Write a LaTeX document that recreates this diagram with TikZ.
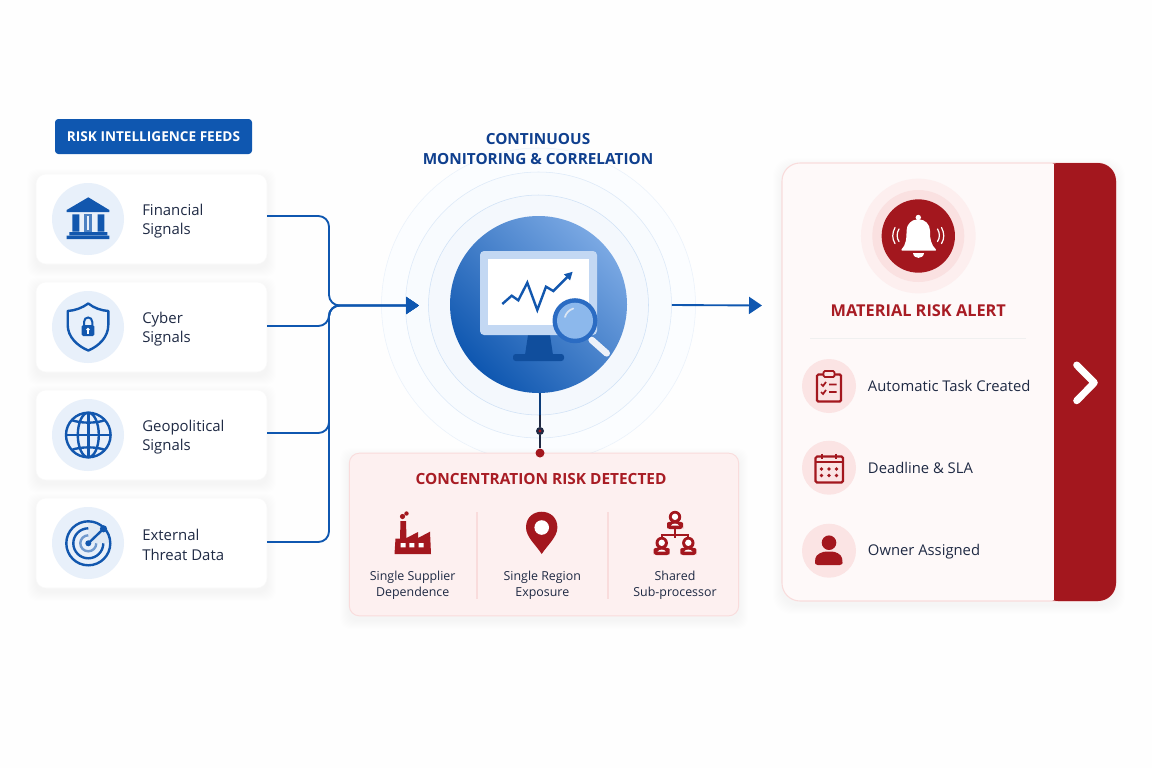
\documentclass[tikz,border=0pt]{standalone}
\usepackage{fontspec}
\setmainfont{Open Sans}
\usepackage{xcolor}
\usetikzlibrary{arrows.meta, calc, positioning}

\definecolor{pagebg}{HTML}{FEFEFE}
\definecolor{feedblue}{HTML}{0F57B0}
\definecolor{iconblue}{HTML}{1257AE}
\definecolor{navyhead}{HTML}{0F3F8E}
\definecolor{iconbg}{HTML}{E8F0FA}
\definecolor{hublight}{HTML}{7AA8E3}
\definecolor{glassblue}{HTML}{8CB8EC}
\definecolor{glassring}{HTML}{2B6CC3}
\definecolor{screenrim}{HTML}{C3D8F3}
\definecolor{haloC}{HTML}{FBFDFF}
\definecolor{haloB}{HTML}{F8FBFE}
\definecolor{haloA}{HTML}{F4F8FD}
\definecolor{haloCbd}{HTML}{EAF2FB}
\definecolor{haloBbd}{HTML}{DCE9F8}
\definecolor{haloAbd}{HTML}{CFE1F6}
\definecolor{inktext}{HTML}{1F2A44}
\definecolor{alertred}{HTML}{A3171E}
\definecolor{redtitle}{HTML}{A81C24}
\definecolor{boxrose}{HTML}{FDF0F0}
\definecolor{rosebd}{HTML}{F9DCDC}
\definecolor{panelrose}{HTML}{FEF9F9}
\definecolor{iconrose}{HTML}{FBE4E4}

% soft shadow under a box: x1 y1 x2 y2 radius
\newcommand{\softbox}[5]{%
  \foreach \s in {1,...,9}
    \fill[black, opacity=0.0045, rounded corners=#5pt]
      ($(#1,#2)+(-\s,-\s+4)$) rectangle ($(#3,#4)+(\s,\s+4)$);
}

\begin{document}
\begin{tikzpicture}[x=0.75pt, y=-0.75pt,% a unit is one pixel of the reference
         > = {Triangle[length=9.75pt, width=12.75pt]},
card/.style = {draw=black!2.5, fill=white, rounded corners=7.5pt, line width=0.4pt,
              minimum width=173.25pt, minimum height=67.5pt,
              inner sep=0pt, outer sep=0pt},
iconspot/.style = {circle, fill=iconbg, minimum size=54pt, inner sep=0pt},
feedtxt/.style = {anchor=west, align=left, text=inktext,
              font=\fontsize{11.2}{14.6}\selectfont, inner sep=0pt},
risktxt/.style = {align=center, text=inktext,
              font=\fontsize{9.3}{12.4}\selectfont, inner sep=0pt},
todotxt/.style = {anchor=west, text=inktext,
              font=\fontsize{11.1}{13}\selectfont, inner sep=0pt},
todospot/.style = {circle, fill=iconrose, minimum size=40.5pt, inner sep=0pt},
ring/.style = {circle, draw=#1, minimum size=0pt, inner sep=0pt},
link/.style = {draw=feedblue, line width=1.4pt, rounded corners=8pt},
blueicon/.style = {draw=iconblue, line width=1.8pt},
redicon/.style = {draw=alertred, line width=1.7pt},
orgperson/.pic = {
  \fill[alertred] (0,-3) circle[radius=6.2];
  \fill[white] (0,-3.2) circle[radius=3.2];
  \fill[alertred, rounded corners=2pt] (-8,9) -- (-8,6) .. controls (-8,2) and (-4,1.5) .. (0,1.5)
     .. controls (4,1.5) and (8,2) .. (8,6) -- (8,9) -- cycle;
  \fill[white] (-4,5.5) .. controls (-3,3) and (3,3) .. (4,5.5) -- cycle;
}
                        ]
	\fill[pagebg] (0,0) rectangle (1152,768);
	\useasboundingbox (0,0) rectangle (1152,768);

	% feeds column
	\node (feedhead) at (153.5,136.5) [fill=feedblue, rounded corners=2.5pt, text=white,
	      minimum width=147.75pt, minimum height=26.25pt, inner sep=0pt,
	      font=\fontsize{10.2}{12}\selectfont\bfseries] {RISK INTELLIGENCE FEEDS};

	\softbox{36}{174}{267}{264}{7.5}
	\softbox{36}{282}{267}{372}{7.5}
	\softbox{36}{390}{267}{480}{7.5}
	\softbox{36}{498}{267}{588}{7.5}
	\node[card] (card1) at (151.5,219) {};
	\node[card] (card2) at (151.5,327) {};
	\node[card] (card3) at (151.5,435) {};
	\node[card] (card4) at (151.5,543) {};
	\node[iconspot] (spot1) at (88,219) {};
	\node[iconspot] (spot2) at (88,327) {};
	\node[iconspot] (spot3) at (88,435) {};
	\node[iconspot] (spot4) at (88,543) {};
	\node[feedtxt] (txt1) at (142,221) {Financial\\Signals};
	\node[feedtxt] (txt2) at (142,329) {Cyber\\Signals};
	\node[feedtxt] (txt3) at (142,437) {Geopolitical\\Signals};
	\node[feedtxt] (txt4) at (142,545) {External\\Threat Data};

	% bank
	\fill[iconblue] (88.3,197.3) -- (109.3,210) -- (109.3,212) -- (66.7,212) -- (66.7,210) -- cycle;
	\fill[iconblue] (72.3,214.3) rectangle (79.3,231.7) (97.7,214.3) rectangle (104.3,231.7);
	\fill[iconblue!75] (84.3,214.3) rectangle (91.7,231.7);
	\fill[iconbg] (87,216) rectangle (89,230);
	\fill[iconblue] (69.3,232.2) rectangle (107.3,235) (66.7,235.6) rectangle (109.3,239);
	% shield
	\draw[blueicon, line join=round] (88.3,303.5) .. controls (94,308) and (101,310.5) .. (108.3,311)
	   -- (108.3,325) .. controls (108.3,337) and (99,346) .. (88.3,350.5)
	   .. controls (77.5,346) and (67.7,337) .. (67.7,325) -- (67.7,311)
	   .. controls (75,310.5) and (82,308) .. (88.3,303.5) -- cycle;
	\fill[iconblue, rounded corners=1pt] (81.7,325) rectangle (94.3,336);
	\draw[iconblue, line width=1.5pt] (84,325) -- (84,322) .. controls (84,316) and (92.3,316) .. (92.3,322) -- (92.3,325);
	\fill[white] (88,329.5) circle[radius=1.8];
	\fill[white] (87.3,330) rectangle (88.8,333.5);
	% globe
	\draw[blueicon] (88.3,435) circle[radius=22.3];
	\draw[blueicon] (88.3,435) ellipse[x radius=10.5, y radius=22.3];
	\draw[blueicon] (66,435) -- (110.6,435) (88.3,412.7) -- (88.3,457.3);
	\draw[blueicon] (71.5,420) .. controls (80,423.5) and (97,423.5) .. (105,420);
	\draw[blueicon] (71.5,450) .. controls (80,446.5) and (97,446.5) .. (105,450);
	% radar
	\fill[iconblue!14] (88.3,543.3) -- (110.3,543.3) arc[start angle=0, end angle=-90, radius=22] -- cycle;
	\draw[blueicon] (88.3,543.3) circle[radius=22];
	\draw[blueicon] (103.3,543.3) arc[start angle=0, end angle=270, radius=15];
	\draw[iconblue!60, line width=1.8pt] (96.3,543.3) arc[start angle=0, end angle=270, radius=8];
	\draw[blueicon] (88.3,543.3) -- (103.3,529);
	\fill[iconblue] (88.3,543.3) circle[radius=3] (103.5,528.8) circle[radius=3.6];

	% center hub
	\node[ring=haloCbd, fill=haloC, minimum size=235.5pt] (ringC) at (538.5,305) {};
	\node[ring=haloBbd, fill=haloB, minimum size=199.5pt] (ringB) at (538.5,305) {};
	\node[ring=haloAbd, fill=haloA, minimum size=165pt] (ringA) at (538.5,305) {};
	\node[circle, minimum size=132.75pt, inner sep=0pt,
	      left color=feedblue, right color=hublight, shading angle=135] (hub) at (538.5,304.5) {};
	\node (hubhead) at (538,149) [align=center, text=navyhead,
	      font=\fontsize{11.5}{14.6}\selectfont\bfseries] {CONTINUOUS\\MONITORING \& CORRELATION};

	% monitor
	\fill[iconblue!90!black] (528,335) -- (550,335) -- (553,355) -- (525,355) -- cycle;
	\fill[iconblue!90!black, rounded corners=2pt] (513,354) rectangle (564,361);
	\fill[screenrim, rounded corners=3pt] (480,251) rectangle (597,335);
	\fill[white] (488,259) rectangle (589,325);
	\draw[iconblue, line width=1.8pt, -{Triangle[length=6pt, width=6pt]}]
	   (502.3,304) -- (511.7,295.7) -- (518.3,300.3) -- (527.3,282.7) -- (537.3,310)
	   -- (546,286.7) -- (553.3,291) -- (572.7,271.7);
	\draw[white!92!iconblue, line width=5pt, line cap=round] (591.7,340) -- (606.7,353.3);
	\fill[glassring] (575,320.7) circle[radius=22.5];
	\fill[glassblue] (575,320.7) circle[radius=18];
	\draw[white!85!iconblue, line width=1.3pt, line cap=round] (565,317) .. controls (566,313) and (569,310) .. (573.3,308.5);

	% links into and out of the hub
	\coordinate (bus) at (329,305.5);
	\coordinate (feedin) at (419,305.5);
	\coordinate (alertin) at (762,305.5);
	\draw[link, ->] ([yshift=2.25pt]card1.east) -| (bus) -- (feedin);
	\draw[link, ->] ([yshift=0.75pt]card2.east) -| (bus) -- (feedin);
	\draw[link, ->] ([yshift=1.5pt]card3.east) -| (bus) -- (feedin);
	\draw[link, ->] ([yshift=0.75pt]card4.east) -| (bus) -- (feedin);
	\draw[link, ->] (ringB.east) -- (alertin);

	% concentration box
	\softbox{349}{453}{739}{616}{7.5}
	\node[fill=boxrose, draw=rosebd, rounded corners=7.5pt, line width=0.7pt,
	      minimum width=292pt, minimum height=122pt, inner sep=0pt] (riskbox) at (544,534.5) {};
	\node[fill=alertred, circle, minimum size=6.75pt, inner sep=0pt] (riskdot) at (540,453) {};
	\node[fill=inktext, circle, minimum size=6pt, inner sep=0pt] (midjoint) at (540,431) {};
	\draw[iconblue!70!black, line width=1.3pt] (hub.south -| midjoint) -- (540,415);
	\draw[inktext, line width=1.3pt] (540,415) -- (midjoint) -- (riskdot);
	\fill[alertred] (540,431) circle[radius=1.6];
	\node (risktitle) at (541,479) [text=redtitle, inner sep=0pt,
	      font=\fontsize{11.55}{13}\selectfont\bfseries] {CONCENTRATION RISK DETECTED};
	\draw[rosebd, line width=0.8pt] (477,512) -- (477,599) (608,512) -- (608,599);
	\node[risktxt] (risktxt1) at (412.7,585.5) {Single Supplier\\Dependence};
	\node[risktxt] (risktxt2) at (542.3,585.5) {Single Region\\Exposure};
	\node[risktxt] (risktxt3) at (675,585.5) {Shared\\Sub-processor};

	% factory
	\fill[alertred] (394.5,554) -- (395.5,538.5) -- (400,538.5) -- (400.5,521) -- (406,521) -- (406.5,538)
	   -- (418,532) -- (418,538) -- (430,531.7) -- (431,554) -- cycle;
	\fill[alertred] (402.5,516.5) circle[radius=2.6] (406.5,513.5) circle[radius=2.2];
	\fill[white] (400.7,543) rectangle (405.7,547.3) (409.3,543) rectangle (414.3,547.3) (418.7,543) rectangle (423.5,547.3);
	% pin
	\fill[alertred] (541.7,554) .. controls (536,545) and (526,537) .. (526,527.4)
	   .. controls (526,506.5) and (557.4,506.5) .. (557.4,527.4)
	   .. controls (557.4,537) and (547.5,545) .. (541.7,554) -- cycle;
	\fill[white] (541.7,527.5) circle[radius=7.3];
	% org chart
	\pic at (675,520) {orgperson};
	\pic at (661.7,546) {orgperson};
	\pic at (688.3,546) {orgperson};
	\draw[redicon] (675,529) -- (675,538) (661.7,538) -- (661.7,535) -- (688.3,535) -- (688.3,538);

	% alert panel
	\softbox{782}{163}{1116}{601}{13.5}
	\node[fill=panelrose, draw=rosebd, rounded corners=13.5pt, line width=0.8pt,
	      minimum width=250.5pt, minimum height=328.5pt, inner sep=0pt] (panel) at (949,382) {};
	\fill[alertred, rounded corners=13.5pt] (1040,163) -- (1116,163) -- (1116,601) -- (1040,601) -- cycle;
	\fill[panelrose] (1030,164) rectangle (1054,600);
	\node[circle, fill=iconrose!60, minimum size=86pt, inner sep=0pt] (bellC) at (918.3,236) {};
	\node[circle, fill=rosebd!85, minimum size=69pt, inner sep=0pt] (bellB) at (918.3,236) {};
	\node[circle, fill=alertred, minimum size=55pt, inner sep=0pt] (bellA) at (918.3,236) {};
	\fill[white] (918.3,217.5) circle[radius=2.7];
	\fill[white, rounded corners=1pt] (900.5,250.5) .. controls (906,245) and (906.5,238) .. (906.5,232)
	   .. controls (906.5,224) and (912,219.5) .. (918.3,219.5) .. controls (924.5,219.5) and (930,224) .. (930,232)
	   .. controls (930,238) and (931,245) .. (937,250.5) -- cycle;
	\fill[white] (913,253) .. controls (913.5,259.5) and (923.5,259.5) .. (924,253) -- cycle;
	\draw[white, line width=0.9pt, line cap=round]
	   (899,229) .. controls (896.5,233) and (896.5,238) .. (899,241.5)
	   (895,227.5) .. controls (892,233) and (892,239) .. (895,243.5)
	   (937.5,229) .. controls (940,233) and (940,238) .. (937.5,241.5)
	   (941.5,227.5) .. controls (944.5,233) and (944.5,239) .. (941.5,243.5);
	\node (alerttitle) at (918.3,311) [text=redtitle, inner sep=0pt,
	      font=\fontsize{12.25}{14}\selectfont\bfseries] {MATERIAL RISK ALERT};
	\draw[black!6, line width=1pt] (810,338.5) -- (1025.7,338.5);
	\node[todospot] (todo1) at (829,386) {};
	\node[todospot] (todo2) at (829,467.7) {};
	\node[todospot] (todo3) at (829,550.7) {};
	\node[todotxt] (todotxt1) at (867.7,386) {Automatic Task Created};
	\node[todotxt] (todotxt2) at (867.7,467.5) {Deadline \& SLA};
	\node[todotxt] (todotxt3) at (867.7,551.5) {Owner Assigned};

	% clipboard
	\draw[redicon, rounded corners=1pt] (817,374.5) rectangle (841,401.5);
	\fill[iconrose, draw=alertred, line width=1.4pt, rounded corners=1pt] (823.5,371) rectangle (834.5,377);
	\draw[alertred, line width=1.3pt] (821,384) -- (823,386) -- (826,382) (821,392) -- (823,394) -- (826,390)
	   (829,384.5) -- (836.5,384.5) (829,392) -- (836.5,392);
	% calendar
	\draw[redicon, rounded corners=1.2pt] (815.5,456.5) rectangle (843,482.5);
	\draw[redicon] (815.5,462) -- (843,462) (822,453.5) -- (822,459) (836,453.5) -- (836,459);
	\foreach \dx in {821.5,829,836.5}
	  \foreach \dy in {469,475.5}
	    \fill[alertred] (\dx,\dy) circle[radius=1.8];
	% person
	\fill[alertred] (829,542.7) circle[radius=7.3];
	\fill[alertred, rounded corners=2pt] (815,565) -- (815,561) .. controls (816,554) and (823,551.5) .. (829,551.5)
	   .. controls (835,551.5) and (841.5,554) .. (842.5,561) -- (842.5,565) -- cycle;
	% chevron
	\draw[white, line width=5.25pt, line cap=round, line join=round] (1076.7,365) -- (1094.3,382.7) -- (1076.7,400.7);
\end{tikzpicture}
\end{document}
